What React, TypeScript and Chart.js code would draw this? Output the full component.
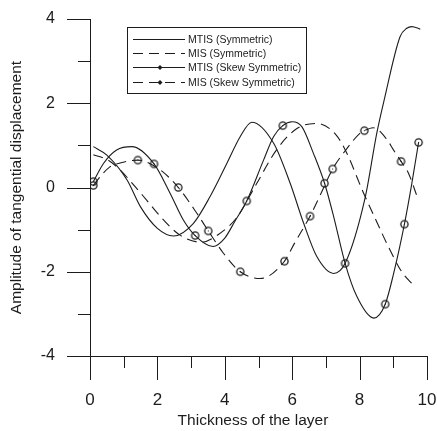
import React, { useEffect, useRef } from "react";
import { Chart, registerables } from "chart.js";

Chart.register(...registerables);

// MTIS (Symmetric) — solid line
const mtisSymX = [0.1, 0.5, 1.1, 1.5, 2.0, 2.48, 3.07, 3.56, 4.06, 4.46, 4.8, 5.45, 5.94, 6.34, 6.73, 7.23, 7.57, 8.17, 8.51, 8.73, 9.2, 9.4, 9.55, 9.8];
const mtisSymY = [0.97, 0.77, 0.18, -0.46, -0.97, -1.15, -0.85, -0.22, 0.57, 1.21, 1.55, 1.05, 0.1, -0.85, -1.64, -2.04, -1.8, -0.22, 1.29, 2.08, 3.58, 3.78, 3.82, 3.76];

// MIS (Symmetric) — dashed line
const misSymX = [0.1, 0.54, 0.89, 1.34, 1.68, 2.18, 2.67, 3.3, 3.8, 4.35, 4.95, 5.54, 6.14, 6.73, 7.3, 7.6, 8.1, 8.5, 8.85, 9.25, 9.6];
const misSymY = [0.78, 0.65, 0.42, 0.02, -0.3, -0.77, -1.13, -1.3, -1.12, -0.72, 0.1, 0.9, 1.4, 1.52, 1.25, 0.85, -0.1, -0.8, -1.4, -2.0, -2.32];

// MTIS (Skew Symmetric) — solid line with markers
const mtisSkewX = [0.1, 0.4, 0.79, 1.24, 1.9, 2.38, 2.77, 3.12, 3.65, 4.0, 4.3, 4.65, 5.15, 5.45, 5.72, 6.0, 6.29, 6.63, 6.96, 7.23, 7.57, 7.92, 8.42, 8.76, 9.01, 9.33, 9.55, 9.75];
const mtisSkewY = [0.14, 0.57, 0.89, 0.97, 0.56, -0.14, -0.77, -1.14, -1.4, -1.2, -0.8, -0.32, 0.65, 1.21, 1.47, 1.56, 1.44, 0.81, 0.1, -0.69, -1.8, -2.59, -3.1, -2.77, -2.04, -0.87, 0.1, 1.07];
const mtisSkewMarkX = [0.1, 1.9, 3.12, 4.65, 5.72, 6.96, 7.57, 8.76, 9.33, 9.75];

// MIS (Skew Symmetric) — dashed line with markers
const misSkewX = [0.1, 0.35, 0.59, 0.89, 1.42, 2.08, 2.62, 3.17, 3.51, 3.96, 4.46, 5.05, 5.77, 6.07, 6.53, 6.85, 7.2, 7.6, 8.0, 8.14, 8.4, 8.8, 9.0, 9.23, 9.45, 9.7];
const misSkewY = [0.05, 0.3, 0.49, 0.58, 0.65, 0.42, 0.0, -0.61, -1.03, -1.56, -2.0, -2.16, -1.75, -1.32, -0.68, -0.15, 0.44, 0.9, 1.28, 1.35, 1.42, 1.15, 0.9, 0.62, 0.34, -0.2];
const misSkewMarkX = [0.1, 1.42, 2.62, 3.51, 4.46, 5.77, 6.53, 7.2, 8.14, 9.23];

const seriesLabels = ["MTIS (Symmetric)", "MIS (Symmetric)", "MTIS (Skew Symmetric)", "MIS (Skew Symmetric)"];
const xTickValues = [0, 2, 4, 6, 8, 10];
const yTickValues = [-4, -2, 0, 2, 4];
const xMinorValues = [1, 3, 5, 7, 9];
const yMinorValues = [-3, -1, 1, 3];
const xTitle = "Thickness of the layer";
const yTitle = "Amplitude of tangential displacement";

const INK = "#1c1c1c";
const FONT = "'Liberation Sans', Arial, sans-serif";
const DASH = [10, 6];

function makeMarker(): HTMLCanvasElement {
  const c = document.createElement("canvas");
  c.width = 11;
  c.height = 11;
  const g = c.getContext("2d")!;
  g.strokeStyle = INK;
  g.lineWidth = 1.3;
  g.beginPath();
  g.arc(5.5, 5.5, 3.6, 0, Math.PI * 2);
  g.stroke();
  g.fillStyle = INK;
  g.fillRect(5, 5, 1, 1);
  return c;
}

const toPoints = (xs: number[], ys: number[]) => xs.map((x, i) => ({ x, y: ys[i] }));

// Axis lines, major/minor tick marks, axis titles and the boxed legend
const decorations = {
  id: "decorations",
  afterDraw(chart: any) {
    const { ctx, chartArea } = chart;
    const xs = chart.scales.x;
    const ys = chart.scales.y;
    ctx.save();
    ctx.strokeStyle = INK;
    ctx.lineWidth = 1;
    ctx.beginPath();
    ctx.moveTo(chartArea.left + 0.5, chartArea.top);
    ctx.lineTo(chartArea.left + 0.5, chartArea.bottom);
    ctx.moveTo(chartArea.left, chartArea.bottom + 0.5);
    ctx.lineTo(chartArea.right, chartArea.bottom + 0.5);
    xTickValues.forEach((v) => {
      const px = Math.round(xs.getPixelForValue(v)) + 0.5;
      ctx.moveTo(px, chartArea.bottom);
      ctx.lineTo(px, chartArea.bottom + 24);
    });
    xMinorValues.forEach((v) => {
      const px = Math.round(xs.getPixelForValue(v)) + 0.5;
      ctx.moveTo(px, chartArea.bottom);
      ctx.lineTo(px, chartArea.bottom + 12);
    });
    yTickValues.forEach((v) => {
      const py = Math.round(ys.getPixelForValue(v)) + 0.5;
      ctx.moveTo(chartArea.left - 23, py);
      ctx.lineTo(chartArea.left, py);
    });
    yMinorValues.forEach((v) => {
      const py = Math.round(ys.getPixelForValue(v)) + 0.5;
      ctx.moveTo(chartArea.left - 12, py);
      ctx.lineTo(chartArea.left, py);
    });
    ctx.stroke();

    // axis titles
    ctx.fillStyle = INK;
    ctx.font = `15.5px ${FONT}`;
    ctx.textAlign = "center";
    ctx.textBaseline = "alphabetic";
    ctx.fillText(xTitle, 253, 425);
    ctx.save();
    ctx.translate(21, (chartArea.top + chartArea.bottom) / 2);
    ctx.rotate(-Math.PI / 2);
    ctx.fillText(yTitle, 0, 0);
    ctx.restore();

    // legend
    const bx = 127.5, by = 27.5, bw = 179, bh = 66;
    ctx.fillStyle = "#fff";
    ctx.fillRect(bx, by, bw, bh);
    ctx.strokeStyle = INK;
    ctx.lineWidth = 1;
    ctx.strokeRect(bx, by, bw, bh);
    ctx.font = `10.5px ${FONT}`;
    ctx.textAlign = "left";
    ctx.textBaseline = "middle";
    chart.data.datasets.forEach((ds: any, i: number) => {
      const ry = Math.round(39 + i * 14.2) + 0.5;
      ctx.setLineDash(ds.borderDash || []);
      ctx.beginPath();
      ctx.moveTo(133, ry);
      ctx.lineTo(185, ry);
      ctx.stroke();
      ctx.setLineDash([]);
      if (ds.legendMarker) {
        ctx.beginPath();
        ctx.moveTo(160, ry - 2.5);
        ctx.lineTo(162.5, ry);
        ctx.lineTo(160, ry + 2.5);
        ctx.lineTo(157.5, ry);
        ctx.closePath();
        ctx.fillStyle = INK;
        ctx.fill();
      }
      ctx.fillStyle = INK;
      ctx.fillText(ds.label, 188, ry + 0.5);
    });
    ctx.restore();
  },
};

export default function App() {
  const ref = useRef<HTMLCanvasElement>(null);

  useEffect(() => {
    if (!ref.current) return;
    const marker = makeMarker();
    const markRadius = (marks: number[], xs: number[]) => (c: any) =>
      marks.includes(xs[c.dataIndex]) ? 5 : 0;

    const base = {
      borderColor: INK,
      backgroundColor: INK,
      borderWidth: 1.1,
      fill: false,
      cubicInterpolationMode: "monotone" as const,
      pointHoverRadius: 0,
    };

    const chart = new Chart(ref.current, {
      type: "line",
      data: {
        datasets: [
          { ...base, label: seriesLabels[0], data: toPoints(mtisSymX, mtisSymY), pointRadius: 0 },
          { ...base, label: seriesLabels[1], data: toPoints(misSymX, misSymY), pointRadius: 0, borderDash: DASH },
          {
            ...base,
            label: seriesLabels[2],
            data: toPoints(mtisSkewX, mtisSkewY),
            pointRadius: markRadius(mtisSkewMarkX, mtisSkewX),
            pointStyle: marker,
            legendMarker: true,
          },
          {
            ...base,
            label: seriesLabels[3],
            data: toPoints(misSkewX, misSkewY),
            pointRadius: markRadius(misSkewMarkX, misSkewX),
            pointStyle: marker,
            borderDash: DASH,
            legendMarker: true,
          },
        ] as any,
      },
      options: {
        responsive: false,
        animation: false,
        events: [],
        layout: { padding: { top: 19, right: 10, left: 0, bottom: 0 } },
        plugins: { legend: { display: false }, tooltip: { enabled: false } },
        scales: {
          x: {
            type: "linear",
            min: 0,
            max: 10,
            grid: { display: false },
            border: { display: false },
            ticks: {
              stepSize: 2,
              padding: 26,
              color: INK,
              font: { family: FONT, size: 17 },
              maxRotation: 0,
            },
            afterFit: (s: any) => {
              s.height = 75;
              s.paddingLeft = 0;
              s.paddingRight = 0;
            },
          },
          y: {
            min: -4,
            max: 4,
            grid: { display: false },
            border: { display: false },
            ticks: {
              stepSize: 2,
              padding: 27,
              color: INK,
              font: { family: FONT, size: 16 },
            },
            afterFit: (s: any) => {
              s.width = 90;
              s.paddingTop = 0;
              s.paddingBottom = 0;
            },
          },
        },
      },
      plugins: [decorations],
    });
    return () => chart.destroy();
  }, []);

  return (
    <div style={{ position: "fixed", left: 0, top: 0, width: 437, height: 431, background: "#fff" }}>
      <canvas ref={ref} width={437} height={431} />
    </div>
  );
}
